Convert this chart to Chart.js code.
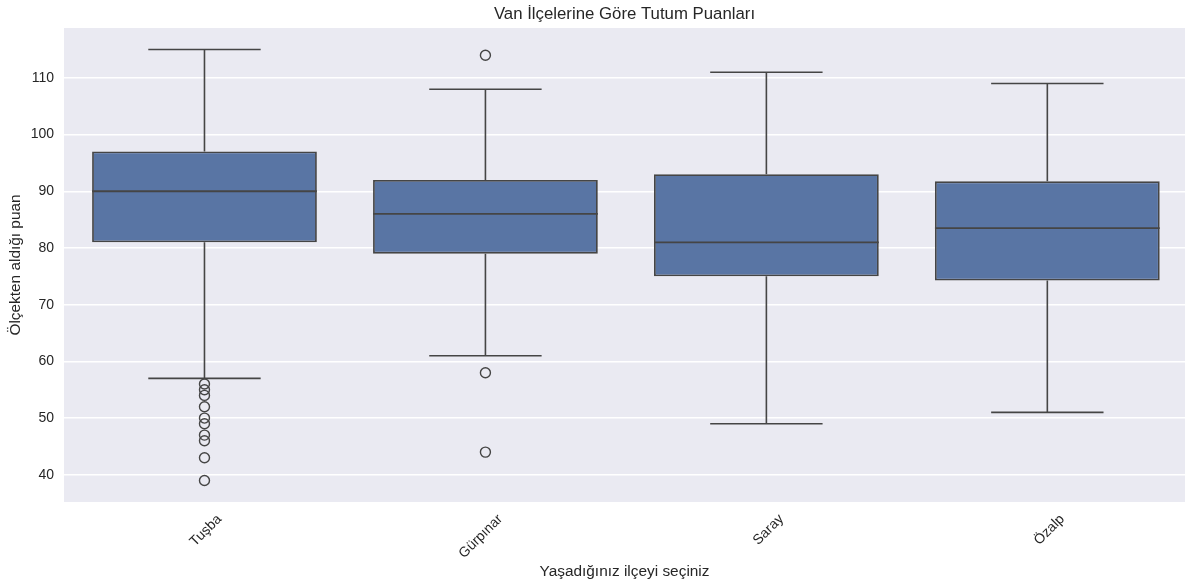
<!DOCTYPE html>
<html><head><meta charset="utf-8">
<script src="https://cdn.jsdelivr.net/npm/chart.js@4/dist/chart.umd.min.js"></script>
<style>html,body{margin:0;padding:0;background:#fff;overflow:hidden}#wrap{width:1185px;height:585px;position:relative}#c{display:block}</style>
</head><body><div id="wrap"><canvas id="c" width="1185" height="585" style="width:1185px;height:585px"></canvas></div>
<script>
// ---- data ----
const districts = ['Tuşba', 'Gürpınar', 'Saray', 'Özalp'];
const whiskerLow = [57, 61, 49, 51];
const q1 = [81, 79, 75, 74.25];
const median = [90, 86, 81, 83.5];
const q3 = [97, 92, 93, 91.75];
const whiskerHigh = [115, 108, 111, 109];
const outliers = [
  [56, 55, 54, 52, 50, 49, 47, 46, 43, 39],
  [114, 58, 44],
  [],
  []
];
const yTicks = [40, 50, 60, 70, 80, 90, 100, 110];
const yMin = 35.2, yMax = 118.8;
const xMin = -0.5, xMax = 3.49; // right edge of the original axes is cropped

// ---- styles ----
const boxFill = '#5975a4';
const lineCol = '#454545';
const textCol = '#262626';
const capHalf = 0.2, boxHalf = 0.4;
const FONT = "'Liberation Sans', Arial, sans-serif";

// build line-type datasets (whiskers+caps, medians) from the arrays
const gap = i => ({x: i, y: null});
const whiskerPts = [];
districts.forEach((d, i) => {
  whiskerPts.push({x: i, y: q3[i]}, {x: i, y: whiskerHigh[i]}, gap(i));
  whiskerPts.push({x: i - capHalf, y: whiskerHigh[i]}, {x: i + capHalf, y: whiskerHigh[i]}, gap(i));
  whiskerPts.push({x: i, y: q1[i]}, {x: i, y: whiskerLow[i]}, gap(i));
  whiskerPts.push({x: i - capHalf, y: whiskerLow[i]}, {x: i + capHalf, y: whiskerLow[i]}, gap(i));
});
const medianPts = [];
districts.forEach((d, i) => {
  medianPts.push({x: i - boxHalf, y: median[i]}, {x: i + boxHalf, y: median[i]}, gap(i));
});
const outlierPts = [];
outliers.forEach((arr, i) => arr.forEach(v => outlierPts.push({x: i, y: v})));

const bgPlugin = {
  id: 'plotBg',
  beforeDraw(chart) {
    const {ctx, chartArea: a} = chart;
    ctx.save();
    ctx.fillStyle = '#eaeaf2';
    ctx.fillRect(a.left, a.top, a.right - a.left, a.bottom - a.top);
    ctx.restore();
  }
};

new Chart(document.getElementById('c'), {
  data: {
    datasets: [
      {
        type: 'bar',
        data: districts.map((d, i) => ({x: i, y: [q1[i], q3[i]]})),
        backgroundColor: boxFill,
        borderColor: lineCol,
        borderWidth: 1.8,
        borderSkipped: false,
        barPercentage: 0.8,
        categoryPercentage: 1,
        order: 3
      },
      {
        type: 'line',
        data: whiskerPts,
        borderColor: lineCol,
        borderWidth: 1.6,
        pointRadius: 0,
        spanGaps: false,
        order: 4
      },
      {
        type: 'line',
        data: medianPts,
        borderColor: lineCol,
        borderWidth: 1.8,
        pointRadius: 0,
        spanGaps: false,
        order: 1
      },
      {
        type: 'scatter',
        data: outlierPts,
        pointStyle: 'circle',
        pointRadius: 5,
        backgroundColor: 'rgba(0,0,0,0)',
        borderColor: lineCol,
        borderWidth: 1.4,
        order: 0
      }
    ]
  },
  options: {
    responsive: false,
    animation: false,
    layout: {padding: 0, autoPadding: false},
    plugins: {
      legend: {display: false},
      tooltip: {enabled: false},
      title: {
        display: true,
        fullSize: false,
        text: 'Van İlçelerine Göre Tutum Puanları',
        color: textCol,
        font: {family: FONT, size: 16.8, weight: 'normal', lineHeight: 1.2},
        padding: {top: 4, bottom: 3.8}
      }
    },
    scales: {
      x: {
        type: 'linear',
        offset: false,
        min: xMin,
        max: xMax,
        afterBuildTicks: s => { s.ticks = districts.map((d, i) => ({value: i})); },
        afterFit: s => { s.height = 83; s.paddingLeft = 0; s.paddingRight = 0; },
        grid: {display: false, drawTicks: false, offset: false},
        border: {display: false},
        ticks: {
          autoSkip: false,
          minRotation: 45,
          maxRotation: 45,
          padding: 9,
          labelOffset: 15,
          color: textCol,
          font: {family: FONT, size: 14},
          callback: v => districts[v]
        },
        title: {
          display: true,
          text: 'Yaşadığınız ilçeyi seçiniz',
          color: textCol,
          font: {family: FONT, size: 15.4},
          padding: {top: 0, bottom: 4}
        }
      },
      y: {
        type: 'linear',
        min: yMin,
        max: yMax,
        afterBuildTicks: s => { s.ticks = yTicks.map(v => ({value: v})); },
        afterFit: s => { s.width = 64; s.paddingTop = 0; s.paddingBottom = 0; },
        grid: {color: '#ffffff', lineWidth: 1.4, drawTicks: false},
        border: {display: false},
        ticks: {
          padding: 10,
          color: textCol,
          font: {family: FONT, size: 14}
        },
        title: {
          display: true,
          text: 'Ölçekten aldığı puan',
          color: textCol,
          font: {family: FONT, size: 15.4},
          padding: {top: 7, bottom: 0}
        }
      }
    }
  },
  plugins: [bgPlugin]
});
</script>
</body></html>
